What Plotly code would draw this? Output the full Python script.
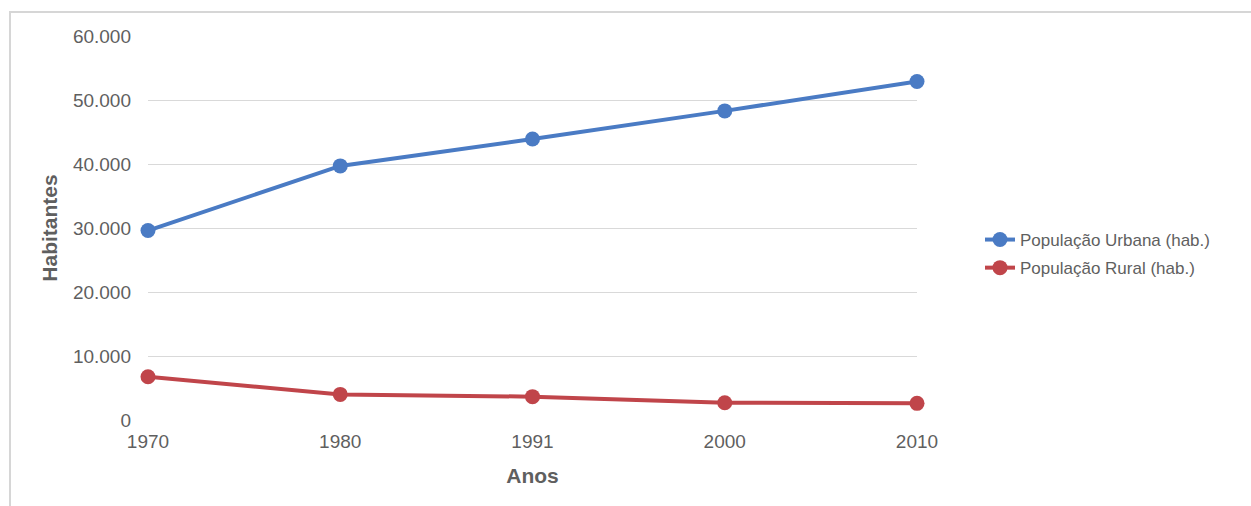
import plotly.graph_objects as go

# Censo: população urbana e rural (habitantes)
anos = ["1970", "1980", "1991", "2000", "2010"]
pop_urbana = [29600, 39700, 43900, 48300, 52900]
pop_rural = [6750, 4000, 3650, 2700, 2600]

serie_urbana = "População Urbana (hab.)"
serie_rural = "População Rural (hab.)"

AZUL = "#4A7BC4"
VERMELHO = "#C0454A"
TEXTO = "#5F5F5F"
GRADE = "#D9D9D9"
FONTE = "Liberation Sans, Arial, sans-serif"

W, H = 1251, 506
L, R, T, B = 148, 334, 36, 86

fig = go.Figure()
fig.add_trace(go.Scatter(
    x=anos, y=pop_urbana, name=serie_urbana, mode="lines+markers",
    line=dict(color=AZUL, width=4), marker=dict(color=AZUL, size=15),
    legendgroup="u", cliponaxis=False,
))
fig.add_trace(go.Scatter(
    x=anos, y=pop_rural, name=serie_rural, mode="lines+markers",
    line=dict(color=VERMELHO, width=4), marker=dict(color=VERMELHO, size=15),
    legendgroup="r", cliponaxis=False,
))

pw = W - L - R
ph = H - T - B

fig.update_layout(
    width=W, height=H,
    margin=dict(l=L, r=R, t=T, b=B, pad=0),
    paper_bgcolor="white", plot_bgcolor="white",
    separators=",.",
    font=dict(family=FONTE, color=TEXTO, size=18),
    showlegend=True,
    legend=dict(
        x=(980 - L) / pw, xanchor="left",
        y=(H - B - 254) / ph, yanchor="middle",
        font=dict(size=17, color=TEXTO),
        traceorder="grouped", tracegroupgap=3,
        bgcolor="rgba(0,0,0,0)", itemwidth=30,
    ),
    xaxis=dict(
        type="category", range=[0, len(anos) - 1],
        showgrid=False, zeroline=False, showline=False,
        ticks="", ticklabelstandoff=8,
        tickfont=dict(size=19, color=TEXTO),
        title=dict(text="<b>Anos</b>", font=dict(size=21, color=TEXTO), standoff=17),
    ),
    yaxis=dict(
        range=[0, 60000], dtick=10000, tickformat=",d",
        showgrid=True, gridcolor=GRADE, gridwidth=1,
        zeroline=False, showline=False,
        ticks="", ticklabelstandoff=16,
        tickfont=dict(size=19, color=TEXTO),
        title=dict(text="<b>Habitantes</b>", font=dict(size=21, color=TEXTO), standoff=9),
    ),
    shapes=[
        # moldura da área do gráfico
        dict(
            type="rect", xref="paper", yref="paper",
            x0=(10 - L) / pw, x1=(W + 20 - L) / pw,
            y0=(H - B - (H + 20)) / ph, y1=(H - B - 12) / ph,
            line=dict(color="#D6D6D6", width=2), fillcolor="rgba(0,0,0,0)",
            layer="below",
        )
    ],
)

fig.write_html("out.html", config={"displayModeBar": False})
